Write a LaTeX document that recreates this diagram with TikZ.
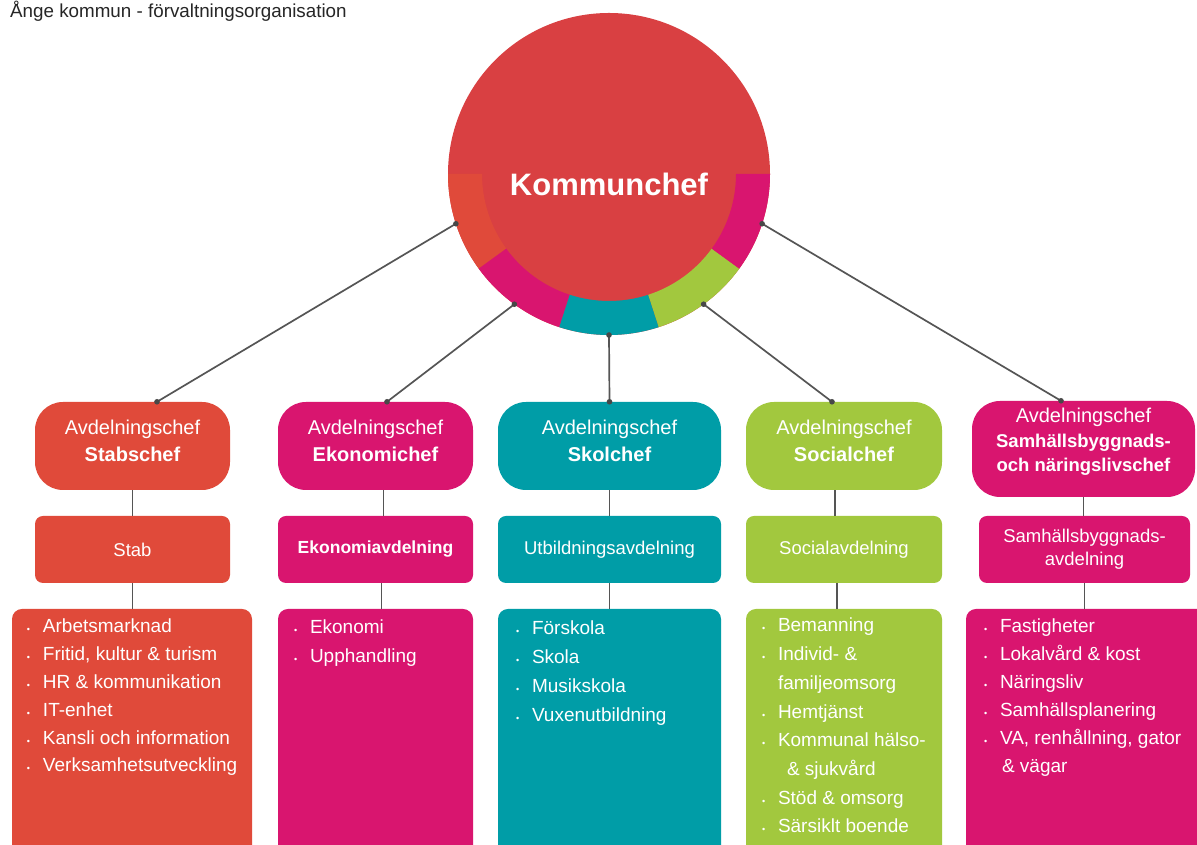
\documentclass[tikz,border=0pt]{standalone}
\usepackage{fontspec}
\setmainfont{Liberation Sans}
\usetikzlibrary{positioning}

\definecolor{kcred}{HTML}{D94042}
\definecolor{stabred}{HTML}{E04A3A}
\definecolor{ekomag}{HTML}{D9156F}
\definecolor{skolteal}{HTML}{009DA7}
\definecolor{socgreen}{HTML}{A2C83E}
\definecolor{linegray}{HTML}{555555}

\newcommand{\blt}{\rule{0pt}{19pt}\makebox[16pt][l]{\fontsize{9}{9}\selectfont •}}
\newcommand{\lowpad}[1]{\rule[-#1]{0pt}{#1}}

\tikzset{
  chefbox/.style={rounded corners=28, minimum height=88, text=white, align=center,
    font=\fontsize{20}{27}\selectfont, inner sep=0},
  avdbox/.style={rounded corners=8, minimum height=67, text=white, align=center,
    font=\fontsize{18.5}{23}\selectfont, inner sep=0},
  listbox/.style={rounded corners=10, minimum height=262, inner sep=0},
  listtxt/.style={anchor=north west, inner sep=0, text=white, align=left},
  conn/.style={draw=linegray, line width=1.7},
  knot/.style={fill=linegray!85!black},
}

\begin{document}
\begin{tikzpicture}[x=1pt, y=1pt]
    \clip (0,0) rectangle (1197,845);
    \fill[white] (0,0) rectangle (1197,845);

    \node[anchor=base west, inner sep=0, text=black!85, font=\fontsize{18.8}{22}\selectfont] (title) at (10,827) {Ånge kommun - förvaltningsorganisation};

    % Kommunchef
    \node[circle, fill=kcred, minimum size=322, inner sep=0, outer sep=0] (kc) at (609,671) {};
    \foreach \a/\b/\c in {180/216/stabred, 216/252/ekomag, 252/288/skolteal, 288/324/socgreen, 324/360/ekomag}
        \fill[\c] ([shift={(\a:161)}]kc.center) arc[start angle=\a, end angle=\b, radius=161]
            -- ([shift={(\b:127)}]kc.center) arc[start angle=\b, end angle=\a, radius=127] -- cycle;
    \node[text=white, font=\fontsize{31}{31}\selectfont\bfseries] (kctext) at (609,660.5) {Kommunchef};

    % avdelningschefer
    \node[chefbox, fill=stabred, minimum width=195] (stabchef) at (132.5,399) {Avdelningschef\\\textbf{Stabschef}\lowpad{9.5pt}};
    \node[chefbox, fill=ekomag, minimum width=195] (ekochef) at (375.5,399) {Avdelningschef\\\textbf{Ekonomichef}\lowpad{9.5pt}};
    \node[chefbox, fill=skolteal, minimum width=223] (skolchef) at (609.5,399) {Avdelningschef\\\textbf{Skolchef}\lowpad{9.5pt}};
    \node[chefbox, fill=socgreen, minimum width=196] (socchef) at (844,399) {Avdelningschef\\\textbf{Socialchef}\lowpad{9.5pt}};
    \node[chefbox, fill=ekomag, minimum width=223, minimum height=96, font=\fontsize{20}{24.5}\selectfont] (samchef) at (1083.5,396)
        {Avdelningschef\\{\fontsize{18.5}{24.5}\selectfont\bfseries Samhällsbyggnads-}\\{\fontsize{18.5}{24.5}\selectfont\bfseries och näringslivschef}\lowpad{17.5pt}};

    % avdelningar
    \node[avdbox, fill=stabred, minimum width=195] (stab) at (132.5,295.5) {Stab};
    \node[avdbox, fill=ekomag, minimum width=195, font=\fontsize{17.5}{23}\selectfont\bfseries] (ekoavd) at (375.5,295.5) {Ekonomiavdelning};
    \node[avdbox, fill=skolteal, minimum width=223] (utbavd) at (609.5,295.5) {Utbildningsavdelning};
    \node[avdbox, fill=socgreen, minimum width=196] (socavd) at (844,295.5) {Socialavdelning};
    \node[avdbox, fill=ekomag, minimum width=211] (samavd) at (1084.5,295.5) {Samhällsbyggnads-\\avdelning\lowpad{5.3pt}};

    % enheter
    \node[listbox, fill=stabred, minimum width=240] (stablist) at (132,105) {};
    \node[listbox, fill=ekomag, minimum width=195] (ekolist) at (375.5,105) {};
    \node[listbox, fill=skolteal, minimum width=223] (skollist) at (609.5,105) {};
    \node[listbox, fill=socgreen, minimum width=196] (soclist) at (844,105) {};
    \node[listbox, fill=ekomag, minimum width=250] (samlist) at (1091,105) {};

    \node[listtxt, font=\fontsize{19}{27.8}\selectfont] (stabtxt) at ([xshift=15, yshift=-5]stablist.north west)
        {\blt Arbetsmarknad\\\blt Fritid, kultur \& turism\\\blt HR \& kommunikation\\\blt IT-enhet\\\blt Kansli och information\\\blt Verksamhetsutveckling};
    \node[listtxt, font=\fontsize{19}{29}\selectfont] (ekotxt) at ([xshift=16, yshift=-6]ekolist.north west)
        {\blt Ekonomi\\\blt Upphandling};
    \node[listtxt, font=\fontsize{19}{29}\selectfont] (skoltxt) at ([xshift=18, yshift=-7]skollist.north west)
        {\blt Förskola\\\blt Skola\\\blt Musikskola\\\blt Vuxenutbildning};
    \node[listtxt, font=\fontsize{19}{28.7}\selectfont] (soctxt) at ([xshift=16, yshift=-4]soclist.north west)
        {\blt Bemanning\\\blt Individ- \&\\\hspace*{16pt}familjeomsorg\\\blt Hemtjänst\\\blt Kommunal hälso-\\\hspace*{25pt}\& sjukvård\\\blt Stöd \& omsorg\\\blt Särsiklt boende};
    \node[listtxt, font=\fontsize{19}{28}\selectfont] (samtxt) at ([xshift=18, yshift=-5]samlist.north west)
        {\blt Fastigheter\\\blt Lokalvård \& kost\\\blt Näringsliv\\\blt Samhällsplanering\\\blt VA, renhållning, gator\\\hspace*{18pt}\& vägar};

    % linjer
    \foreach \a/\n/\s in {198/stabchef/24.5, 234/ekochef/11.5, 270/skolchef/0, 306/socchef/-12, 342/samchef/-22.5} {
        \draw[conn] (kc.\a) -- ([xshift=\s]\n.north);
        \fill[knot] (kc.\a) circle (2.8);
        \fill[knot] ([xshift=\s]\n.north) circle (2.8);
    }
    \foreach \u/\v/\s in {stabchef/stab/0, ekochef/ekoavd/8, skolchef/utbavd/0, socchef/socavd/-9, samchef/samavd/0}
        \draw[conn] ([xshift=\s]\u.south) -- ([xshift=\s]\u.south |- \v.north);
    \foreach \u/\v/\s in {stab/stablist/0, ekoavd/ekolist/6, utbavd/skollist/0, socavd/soclist/-7, samavd/samlist/0}
        \draw[conn] ([xshift=\s]\u.south) -- ([xshift=\s]\u.south |- \v.north);
\end{tikzpicture}
\end{document}
